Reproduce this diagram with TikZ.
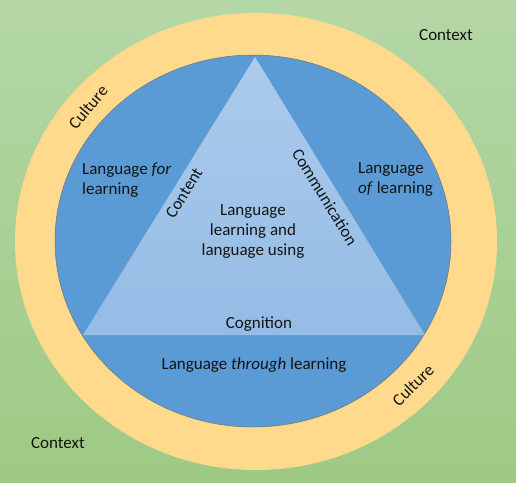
\documentclass[tikz,border=0pt]{standalone}
\usepackage{fontspec}
\setmainfont{Carlito}
\definecolor{bgtop}{RGB}{180,215,166}
\definecolor{bgbot}{RGB}{158,202,132}
\definecolor{ringc}{RGB}{255,217,140}
\definecolor{bluec}{RGB}{91,155,213}
\definecolor{tritop}{RGB}{172,203,236}
\definecolor{tribot}{RGB}{148,188,229}
\definecolor{txt}{RGB}{20,20,20}
\begin{document}
\begin{tikzpicture}[x=1pt,y=-1pt,
  lbl/.style={font=\fontsize{17}{20}\selectfont, text=txt, inner sep=0pt},
  lblL/.style={lbl, align=left},
  lblC/.style={lbl, align=center}]
\useasboundingbox (0,0) rectangle (516,482);
\shade[top color=bgtop, bottom color=bgbot] (0,0) rectangle (516,482);
\fill[ringc] (256,241.5) ellipse [x radius=241, y radius=228.5];
\fill[bluec, draw=black!55, line width=0.5pt] (253,241) ellipse [x radius=198, y radius=186];
\shade[top color=tritop, bottom color=tribot] (255,57) -- (425,335) -- (83,335) -- cycle;
% texts
\node[lbl] (ctx1) at (446,35) {Context};
\node[lbl] (ctx2) at (58,443) {Context};
\node[lbl, rotate=50] (cul1) at (88,107) {Culture};
\node[lbl, rotate=45] (cul2) at (413,385) {Culture};
\node[lblL, anchor=west] (lfor) at (82,180) {Language \textit{for}\\learning};
\node[lblL, anchor=west] (lof) at (358,180) {Language\\\textit{of} learning};
\node[lbl, rotate=58.3] (cont) at (184,193) {Content};
\node[lbl, rotate=-58.5] (comm) at (325,197) {Communication};
\node[lblC] (core) at (253,232) {Language\\learning and\\language using};
\node[lbl] (cog) at (259,324) {Cognition};
\node[lbl] (thr) at (254,365) {Language \textit{through} learning};
\end{tikzpicture}
\end{document}
